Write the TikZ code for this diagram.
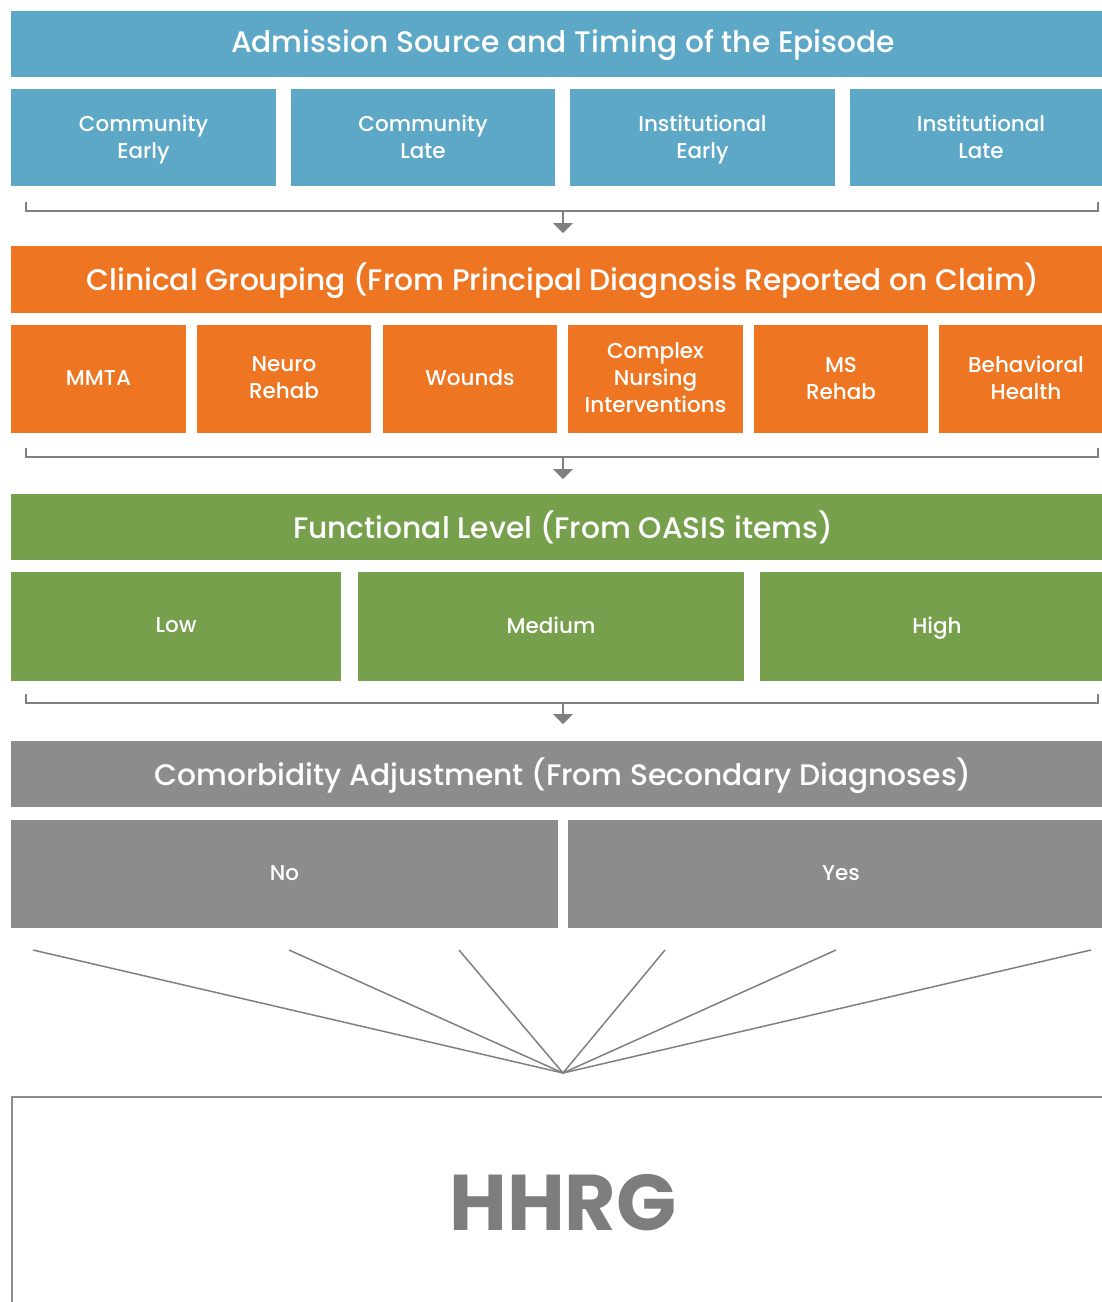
\documentclass[tikz,border=0pt]{standalone}
\usepackage{fontspec}
\setmainfont{Poppins}
\newfontfamily\pmed{Poppins Medium}
\usetikzlibrary{arrows.meta}
\definecolor{cblue}{RGB}{92,168,198}
\definecolor{corange}{RGB}{238,118,35}
\definecolor{cgreen}{RGB}{119,160,76}
\definecolor{cgray}{RGB}{140,140,140}
\definecolor{lgray}{RGB}{128,128,128}
\definecolor{tgray}{RGB}{125,125,125}
\newcommand{\substr}{\rule[-7pt]{0pt}{20pt}}
\newcommand{\headstr}{\rule[-9pt]{0pt}{27.6pt}}
\tikzset{
  box/.style={anchor=center, inner sep=0pt, outer sep=0pt, fill, align=center},
  lbl/.style={anchor=center, inner sep=0pt, outer sep=0pt, text=white, align=center},
  head/.style={lbl, yshift=-2pt, font=\pmed\fontsize{29.7}{32}\selectfont},
  sub/.style={lbl, yshift=-2.5pt, font=\pmed\fontsize{21.5}{27}\selectfont},
  brk/.style={draw=lgray, line width=1.6pt},
  arr/.style={draw=lgray, line width=1.6pt, -{Triangle[width=20pt,length=10pt]}},
  fan/.style={draw=lgray, line width=1.5pt},
}
\begin{document}
\begin{tikzpicture}[x=1pt,y=-1pt]
\useasboundingbox (0,0) rectangle (1102,1302);
\clip (0,0) rectangle (1102,1302);
\fill[white] (0,0) rectangle (1102,1302);

% Row 1
\node[box, cblue, minimum width=1091pt, minimum height=66pt] (h1) at (556.5,44) {};
\node[head] (h1t) at (563,44) {\headstr Admission Source and Timing of the Episode};
\node[box, cblue, minimum width=265pt, minimum height=97pt] (ce) at (143.5,137.5) {};
\node[sub] (cet) at (ce) {\substr Community\\\substr Early};
\node[box, cblue, minimum width=264pt, minimum height=97pt] (cl) at (423,137.5) {};
\node[sub] (clt) at (cl) {\substr Community\\\substr Late};
\node[box, cblue, minimum width=265pt, minimum height=97pt] (ie) at (702.5,137.5) {};
\node[sub] (iet) at (ie) {\substr Institutional\\\substr Early};
\node[box, cblue, minimum width=262pt, minimum height=97pt] (il) at (981,137.5) {};
\node[sub] (ilt) at (981,137.5) {\substr Institutional\\\substr Late};
\coordinate (b1l) at (26,202);
\coordinate (b1r) at (1098,202);
\coordinate (b1m) at (563,211);
\draw[brk] (b1l) -- (26,211) -- (1098,211) -- (b1r);
\draw[arr] (b1m) -- (563,233);

% Row 2
\node[box, corange, minimum width=1091pt, minimum height=67pt] (h2) at (556.5,279.5) {};
\node[head] (h2t) at (563,279.5) {\headstr Clinical Grouping (From Principal Diagnosis Reported on Claim)};
\node[box, corange, minimum width=175pt, minimum height=108pt] (mmta) at (98.5,379) {};
\node[sub] (mmtat) at (mmta) {\substr MMTA};
\node[box, corange, minimum width=174pt, minimum height=108pt] (nr) at (284,379) {};
\node[sub] (nrt) at (nr) {\substr Neuro\\\substr Rehab};
\node[box, corange, minimum width=174pt, minimum height=108pt] (wo) at (470,379) {};
\node[sub] (wot) at (wo) {\substr Wounds};
\node[box, corange, minimum width=175pt, minimum height=108pt] (cn) at (655.5,379) {};
\node[sub] (cnt) at (cn) {\substr Complex\\\substr Nursing\\\substr Interventions};
\node[box, corange, minimum width=174pt, minimum height=108pt] (ms) at (841,379) {};
\node[sub] (mst) at (ms) {\substr MS\\\substr Rehab};
\node[box, corange, minimum width=163pt, minimum height=108pt] (bh) at (1020.5,379) {};
\node[sub] (bht) at (1026,379) {\substr Behavioral\\\substr Health};
\coordinate (b2l) at (26,448);
\coordinate (b2r) at (1098,448);
\coordinate (b2m) at (563,457);
\draw[brk] (b2l) -- (26,457) -- (1098,457) -- (b2r);
\draw[arr] (b2m) -- (563,479);

% Row 3
\node[box, cgreen, minimum width=1091pt, minimum height=66pt] (h3) at (556.5,527) {};
\node[head] (h3t) at (563,527) {\headstr Functional Level (From OASIS items)};
\node[box, cgreen, minimum width=330pt, minimum height=109pt] (low) at (176,626.5) {};
\node[sub] (lowt) at (low) {\substr Low};
\node[box, cgreen, minimum width=386pt, minimum height=109pt] (med) at (551,626.5) {};
\node[sub] (medt) at (med) {\substr Medium};
\node[box, cgreen, minimum width=342pt, minimum height=109pt] (high) at (931,626.5) {};
\node[sub] (hight) at (937,626.5) {\substr High};
\coordinate (b3l) at (26,694);
\coordinate (b3r) at (1098,694);
\coordinate (b3m) at (563,703);
\draw[brk] (b3l) -- (26,703) -- (1098,703) -- (b3r);
\draw[arr] (b3m) -- (563,724);

% Row 4
\node[box, cgray, minimum width=1091pt, minimum height=66pt] (h4) at (556.5,774) {};
\node[head] (h4t) at (563,774) {\headstr Comorbidity Adjustment (From Secondary Diagnoses)};
\node[box, cgray, minimum width=547pt, minimum height=108pt] (no) at (284.5,874) {};
\node[sub] (not) at (no) {\substr No};
\node[box, cgray, minimum width=534pt, minimum height=108pt] (yes) at (835,874) {};
\node[sub] (yest) at (841,874) {\substr Yes};

% Fan
\coordinate (hub) at (563,1073);
\coordinate (f1) at (33,950);
\coordinate (f2) at (289,950);
\coordinate (f3) at (459,950);
\coordinate (f4) at (665,950);
\coordinate (f5) at (836,950);
\coordinate (f6) at (1091,950);
\foreach \f in {f1,f2,f3,f4,f5,f6} \draw[fan] (\f) -- (hub);

% HHRG
\node[draw=cgray, line width=2.2pt, fill=white, inner sep=0pt, outer sep=0pt, minimum width=1110pt, minimum height=230pt, anchor=north west] (hhrg) at (12,1097) {};
\node[text=tgray, font=\fontsize{79}{82}\selectfont\bfseries, anchor=base] (hh) at (563,1230) {HHRG};
\end{tikzpicture}
\end{document}
